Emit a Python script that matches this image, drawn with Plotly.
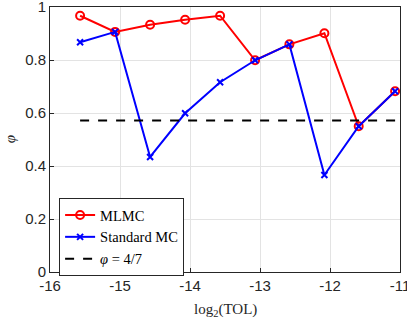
import plotly.graph_objects as go

log2_tol = [-15.57, -15.07, -14.57, -14.07, -13.57, -13.07, -12.58, -12.08, -11.59, -11.07]
mlmc = [0.967, 0.906, 0.933, 0.952, 0.967, 0.799, 0.859, 0.901, 0.550, 0.682]
std_mc = [0.867, 0.906, 0.434, 0.599, 0.716, 0.799, 0.859, 0.366, 0.550, 0.682]
phi_ref = 4 / 7
x_ticks = [-16, -15, -14, -13, -12, -11]
y_ticks = [0, 0.2, 0.4, 0.6, 0.8, 1]

serif = "Liberation Serif, DejaVu Serif, serif"
sans = "Liberation Sans, Arial, sans-serif"

fig = go.Figure()
fig.add_trace(go.Scatter(
    x=log2_tol, y=mlmc, mode="lines+markers", name="MLMC",
    line=dict(color="#FF0000", width=2),
    marker=dict(symbol="circle-open", size=8, color="#FF0000", line=dict(width=2)),
))
fig.add_trace(go.Scatter(
    x=log2_tol, y=std_mc, mode="lines+markers", name="Standard MC",
    line=dict(color="#0000FF", width=2),
    marker=dict(symbol="x-thin-open", size=6, color="#0000FF", line=dict(width=2, color="#0000FF")),
))
fig.add_trace(go.Scatter(
    x=[log2_tol[0], log2_tol[-1]], y=[phi_ref, phi_ref], mode="lines",
    name="<i>φ</i> = 4/7",
    line=dict(color="black", width=2, dash="dash"),
))

fig.update_layout(
    width=407, height=319,
    margin=dict(l=50, r=7, t=7, b=47, autoexpand=False),
    paper_bgcolor="white", plot_bgcolor="white",
    showlegend=True,
    legend=dict(
        x=0.026, y=0.279, xanchor="left", yanchor="top",
        bgcolor="white", bordercolor="#262626", borderwidth=1,
        font=dict(family=serif, size=14.5, color="black"),
        tracegroupgap=0, itemwidth=30,
    ),
    xaxis=dict(
        range=[-16, -11], tickvals=x_ticks, ticktext=[str(v) for v in x_ticks],
        showgrid=True, gridcolor="#e3e3e3", gridwidth=1,
        showline=True, linecolor="#262626", linewidth=1, mirror=True,
        ticks="inside", ticklen=4, tickcolor="#262626",
        tickfont=dict(family=sans, size=15, color="#262626"),
        zeroline=False, automargin=False, ticklabeloverflow="allow",
    ),
    yaxis=dict(
        range=[0, 1], tickvals=y_ticks, ticktext=["0", "0.2", "0.4", "0.6", "0.8", "1"],
        showgrid=True, gridcolor="#e3e3e3", gridwidth=1,
        showline=True, linecolor="#262626", linewidth=1, mirror=True,
        ticks="inside", ticklen=4, tickcolor="#262626",
        tickfont=dict(family=sans, size=15, color="#262626"),
        zeroline=False, automargin=False, ticklabeloverflow="allow",
    ),
    annotations=[
        dict(text="log<sub>2</sub>(TOL)", xref="paper", yref="paper", x=0.5, y=-0.1,
             xanchor="center", yanchor="top", showarrow=False,
             font=dict(family=serif, size=15, color="#262626")),
        dict(text="<i>φ</i>", xref="paper", yref="paper", x=-0.115, y=0.5,
             xanchor="center", yanchor="middle", showarrow=False, textangle=-90,
             font=dict(family=serif, size=15, color="#262626")),
    ],
)

fig.write_html("out.html", config={"displayModeBar": False},
               post_script="document.body.style.margin='0';document.body.style.overflow='hidden';")
